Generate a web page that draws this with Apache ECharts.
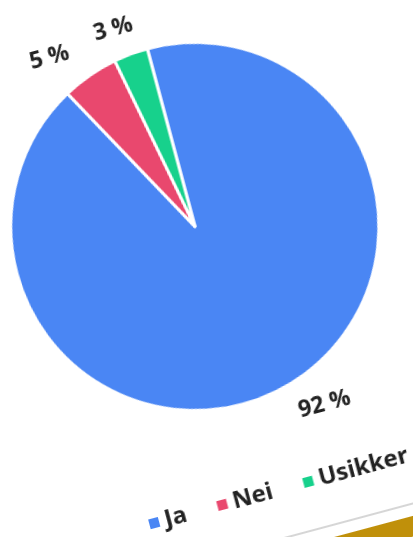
<!DOCTYPE html>
<html><head><meta charset="utf-8">
<script src="https://cdn.jsdelivr.net/npm/echarts@6/dist/echarts.min.js"></script>
<style>
html,body{margin:0;padding:0;background:#fff;overflow:hidden;width:413px;height:537px;}
#c{position:absolute;left:-44px;top:-52px;width:500px;height:640px;transform:rotate(-15deg);transform-origin:250px 320px;}
</style></head>
<body><div id="c"></div>
<script>
const categories = ['Ja', 'Nei', 'Usikker'];
const values = [92, 5, 3];
const colors = ['#4a86f4', '#e9486e', '#17d18c'];

const labelNudge = [[0, 0], [-5, -1], [12, 0]];

const chart = echarts.init(document.getElementById('c'), null, {renderer: 'canvas'});
chart.setOption({
  backgroundColor: 'transparent',
  animation: false,
  color: colors,
  legend: {
    data: categories,
    left: 122,
    top: 536,
    icon: 'rect',
    itemWidth: 12,
    itemHeight: 12,
    itemGap: 30,
    textStyle: {fontFamily: 'Open Sans', fontSize: 24, fontWeight: 'bold', color: '#222'}
  },
  graphic: [
    {type: 'rect', shape: {x: -100, y: 600, width: 700, height: 2}, style: {fill: '#d6d6d6'}},
    {type: 'rect', shape: {x: -100, y: 613, width: 700, height: 20}, style: {fill: '#c0900a'}}
  ],
  series: [{
    type: 'pie',
    center: [250, 277],
    radius: 184,
    startAngle: 90,
    clockwise: true,
    avoidLabelOverlap: false,
    itemStyle: {borderColor: '#fff', borderWidth: 3},
    label: {
      show: true,
      position: 'outside',
      formatter: '{c} %',
      distanceToLabelLine: 0,
      fontFamily: 'Open Sans',
      fontSize: 23,
      fontWeight: 'bold',
      color: '#222'
    },
    labelLine: {show: false, length: 28, length2: 0},
    labelLayout: function (p) {
      const n = labelNudge[p.dataIndex] || [0, 0];
      return {dx: n[0], dy: n[1]};
    },
    emphasis: {disabled: true},
    data: categories.map((n, i) => ({name: n, value: values[i]}))
  }]
});
</script></body></html>
